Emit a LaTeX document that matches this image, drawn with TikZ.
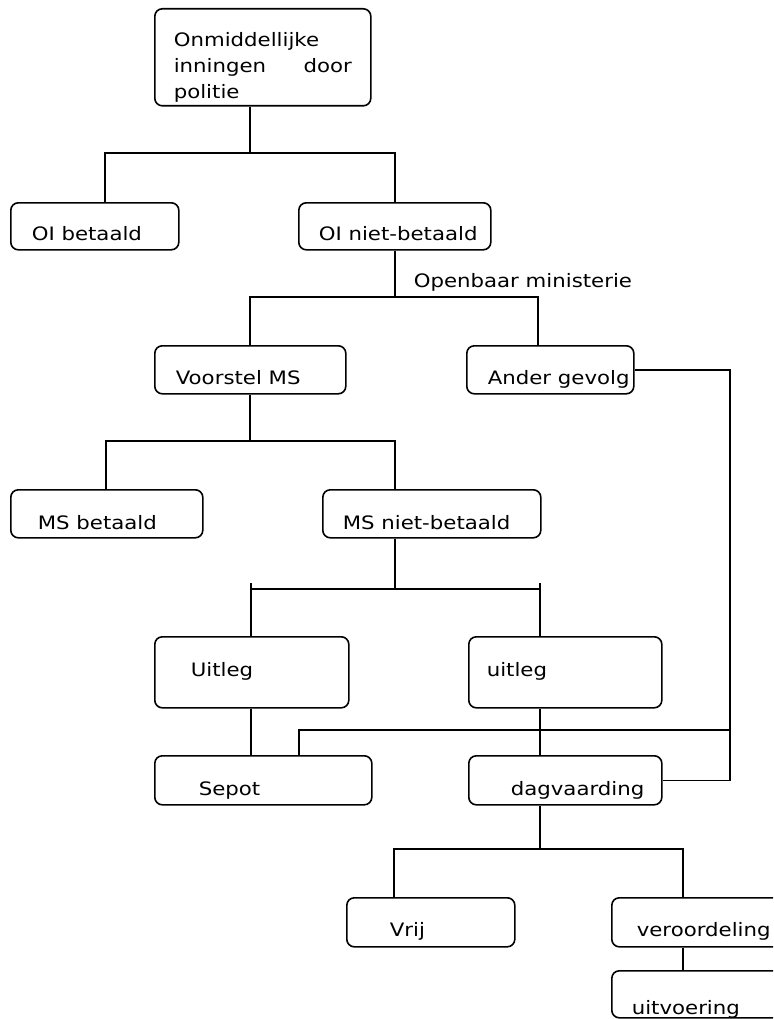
\documentclass[tikz,border=0pt]{standalone}
\usepackage{fontspec}
\setmainfont{DejaVu Sans}[FakeStretch=1.15]
\begin{document}
\begin{tikzpicture}[x=1pt,y=-1pt,line width=1.6pt,
  box/.style={draw,rounded corners=7.5pt,anchor=north west,inner sep=0pt},
  lbl/.style={font=\fontsize{18.5}{26}\selectfont,inner sep=0pt}]
\useasboundingbox (0,0) rectangle (773,1019);
\clip (0,0) rectangle (773,1019);

\node[box,minimum width=216pt,minimum height=97pt,label={[lbl,anchor=north west,text width=178pt,align=left,xshift=19pt,yshift=-24pt]north west:Onmiddellijke\\inningen\hfill door\\politie}] (onm) at (154,8) {};

\node[box,minimum width=168pt,minimum height=47pt,label={[lbl,anchor=base west,xshift=21pt,yshift=10pt]south west:OI betaald}] (oib) at (10,202) {};
\node[box,minimum width=192pt,minimum height=47pt,label={[lbl,anchor=base west,xshift=20pt,yshift=10pt]south west:OI niet-betaald}] (oin) at (298,202) {};

\node[lbl,anchor=base west] (om) at (413,287) {Openbaar ministerie};

\node[box,minimum width=191pt,minimum height=48pt,label={[lbl,anchor=base west,xshift=21pt,yshift=10pt]south west:Voorstel MS}] (vms) at (154,345) {};
\node[box,minimum width=167pt,minimum height=48pt,label={[lbl,anchor=base west,xshift=21pt,yshift=10pt]south west:Ander gevolg}] (ander) at (466,345) {};

\node[box,minimum width=192pt,minimum height=48pt,label={[lbl,anchor=base west,xshift=27pt,yshift=9pt]south west:MS betaald}] (msb) at (10,489) {};
\node[box,minimum width=218pt,minimum height=48pt,label={[lbl,anchor=base west,xshift=20pt,yshift=9pt]south west:MS niet-betaald}] (msn) at (322,489) {};

\node[box,minimum width=194pt,minimum height=71pt,label={[lbl,anchor=base west,xshift=36pt,yshift=32pt]south west:Uitleg}] (uitL) at (154,636) {};
\node[box,minimum width=193pt,minimum height=71pt,label={[lbl,anchor=base west,xshift=18pt,yshift=32pt]south west:uitleg}] (uitR) at (468,636) {};

\node[box,minimum width=217pt,minimum height=49pt,label={[lbl,anchor=base west,xshift=44pt,yshift=10pt]south west:Sepot}] (sepot) at (154,755) {};
\node[box,minimum width=193pt,minimum height=49pt,label={[lbl,anchor=base west,xshift=42pt,yshift=10pt]south west:dagvaarding}] (dagv) at (468,755) {};

\node[box,minimum width=168pt,minimum height=49pt,label={[lbl,anchor=base west,xshift=43pt,yshift=11pt]south west:Vrij}] (vrij) at (346,897) {};
\node[box,minimum width=190pt,minimum height=49pt,label={[lbl,anchor=base west,xshift=25pt,yshift=11pt]south west:veroordeling}] (veroord) at (611,897) {};
\node[box,minimum width=190pt,minimum height=47pt,label={[lbl,anchor=base west,xshift=20pt,yshift=4pt]south west:uitvoering}] (uitv) at (611,970) {};

\coordinate (j1) at (250,153);
\coordinate (j1l) at (105,153);
\coordinate (j1r) at (395,153);
\draw (onm.south -| j1) -- (j1);
\draw (oib.north -| j1l) -- (j1l) -- (j1r) -- (oin.north -| j1r);

\coordinate (j2) at (395,297);
\coordinate (j2l) at (250,297);
\coordinate (j2r) at (538,297);
\draw (oin.south -| j2) -- (j2);
\draw (vms.north -| j2l) -- (j2l) -- (j2r) -- (ander.north -| j2r);

\coordinate (j3) at (250,441);
\coordinate (j3l) at (106,441);
\coordinate (j3r) at (395,441);
\draw (vms.south -| j3) -- (j3);
\draw (msb.north -| j3l) -- (j3l) -- (j3r) -- (msn.north -| j3r);

\coordinate (j4) at (395,589);
\coordinate (j4l) at (251,589);
\coordinate (j4r) at (540,589);
\draw (msn.south -| j4) -- (j4);
\draw (j4l) -- (j4r);
\draw ([yshift=6pt]j4l) -- (uitL.north -| j4l);
\draw ([yshift=6pt]j4r) -- (uitR.north -| j4r);
\draw (uitL.south -| j4l) -- (sepot.north -| j4l);
\draw (uitR.south -| j4r) -- (dagv.north -| j4r);

\coordinate (rx) at (730,0);
\coordinate (k3) at (299,730);
\draw (ander.east) -| (dagv.east -| rx) -- (dagv.east);
\draw (sepot.north -| k3) |- (k3 -| rx);

\coordinate (j5) at (540,849);
\coordinate (j5l) at (394,849);
\coordinate (j5r) at (683,849);
\draw (dagv.south -| j5) -- (j5);
\draw (vrij.north -| j5l) -- (j5l) -- (j5r) -- (veroord.north -| j5r);
\draw (veroord.south -| j5r) -- (uitv.north -| j5r);

\end{tikzpicture}
\end{document}
